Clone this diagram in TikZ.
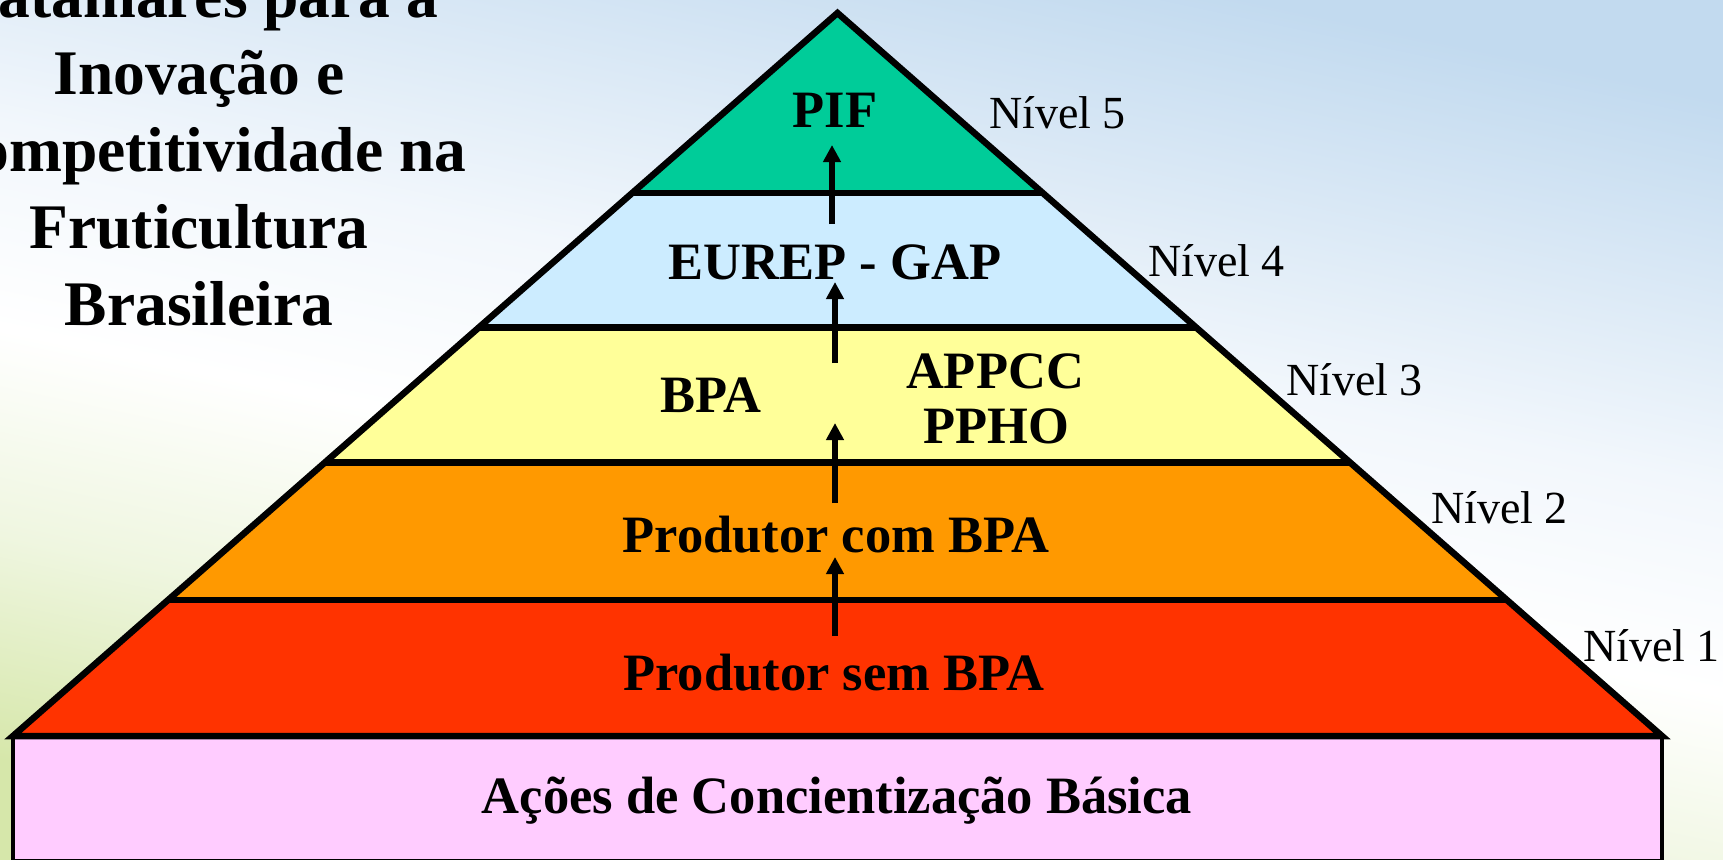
\documentclass[tikz,border=0pt]{standalone}
\usepackage{fontspec}
\setmainfont{Liberation Serif}
\usetikzlibrary{arrows.meta}
\definecolor{bggreen}{HTML}{D6E7AA}
\definecolor{bgpale}{HTML}{EFF6E0}
\definecolor{bgwb}{HTML}{F2F7FC}
\definecolor{bgblue}{HTML}{C2DAEF}
\definecolor{lvfive}{HTML}{00CC99}
\definecolor{lvfour}{HTML}{CCECFF}
\definecolor{lvthree}{HTML}{FFFF99}
\definecolor{lvtwo}{HTML}{FF9900}
\definecolor{lvone}{HTML}{FF3300}
\definecolor{basefill}{HTML}{FFCCFF}
\pgfdeclareverticalshading{bgshade}{100bp}{color(0bp)=(bggreen); color(25bp)=(bggreen); color(36bp)=(bgpale); color(46bp)=(white); color(56bp)=(bgwb); color(75bp)=(bgblue); color(100bp)=(bgblue)}
\tikzset{
  layer/.style={line width=6.5pt, line join=miter, draw=black},
  bigtxt/.style={font=\fontsize{52.5}{55}\selectfont\bfseries, inner sep=0pt, anchor=base, align=center},
  lvtxt/.style={font=\fontsize{46}{48}\selectfont, inner sep=0pt, anchor=base west},
  uparrow/.style={line width=5.5pt, -{Triangle[width=17pt,length=17pt]}},
}
\begin{document}
\begin{tikzpicture}[x=1pt,y=-1pt]
\useasboundingbox (0,0) rectangle (1723,859);
\shade[shading=bgshade, shading angle=-12] (0,0) rectangle (1723,859);
% title (base anchor = baseline of last line)
\node[font=\fontsize{63.5}{77}\selectfont\bfseries, inner sep=0pt, anchor=base, align=center] (title) at (199,325)
  {Patamares para a\\Inovação e\\Competitividade na\\Fruticultura\\Brasileira};
% base rectangle
\draw[line width=4.5pt, fill=basefill] (13,736) rectangle (1662,861);
% layers
\coordinate (A) at (837.5,13);
\coordinate (L5) at (632.2,193);   \coordinate (R5) at (1042.8,193);
\coordinate (L4) at (478.8,327.5); \coordinate (R4) at (1196.2,327.5);
\coordinate (L3) at (324.9,462.5); \coordinate (R3) at (1350.1,462.5);
\coordinate (L2) at (168.1,600);   \coordinate (R2) at (1506.9,600);
\coordinate (L1) at (13,736);      \coordinate (R1) at (1662,736);
\fill[lvfive] (A) -- (R5) -- (L5) -- cycle;
\fill[lvfour] (L5) -- (R5) -- (R4) -- (L4) -- cycle;
\fill[lvthree] (L4) -- (R4) -- (R3) -- (L3) -- cycle;
\fill[lvtwo] (L3) -- (R3) -- (R2) -- (L2) -- cycle;
\fill[lvone] (L2) -- (R2) -- (R1) -- (L1) -- cycle;
\draw[layer] (L1) -- (A) -- (R1) -- cycle;
\draw[layer] (L5) -- (R5);
\draw[layer] (L4) -- (R4);
\draw[layer] (L3) -- (R3);
\draw[layer] (L2) -- (R2);
% texts
\node[bigtxt] (pif) at (835,127) {PIF};
\node[bigtxt] (eurep) at (835,279) {EUREP - GAP};
\node[bigtxt] (bpa) at (711,412) {BPA};
\node[bigtxt] (appcc) at (995,388) {APPCC};
\node[bigtxt] (ppho) at (996,443) {PPHO};
\node[bigtxt] (com) at (836,552) {Produtor com BPA};
\node[bigtxt] (sem) at (834,690) {Produtor sem BPA};
\node[bigtxt] (acoes) at (837,813) {Ações de Concientização Básica};
\node[lvtxt] (n5) at (989,128.5) {Nível 5};
\node[lvtxt] (n4) at (1148,276) {Nível 4};
\node[lvtxt] (n3) at (1286,395.5) {Nível 3};
\node[lvtxt] (n2) at (1431,523) {Nível 2};
\node[lvtxt] (n1) at (1583,661.5) {Nível 1};
% arrows
\coordinate (a1s) at (835,636); \coordinate (a1e) at (835,557);
\coordinate (a2s) at (835,503); \coordinate (a2e) at (835,423);
\coordinate (a3s) at (835,363); \coordinate (a3e) at (835,282);
\coordinate (a4s) at (832,224); \coordinate (a4e) at (832,145);
\draw[uparrow] (a1s) -- (a1e);
\draw[uparrow] (a2s) -- (a2e);
\draw[uparrow] (a3s) -- (a3e);
\draw[uparrow] (a4s) -- (a4e);
\end{tikzpicture}
\end{document}
